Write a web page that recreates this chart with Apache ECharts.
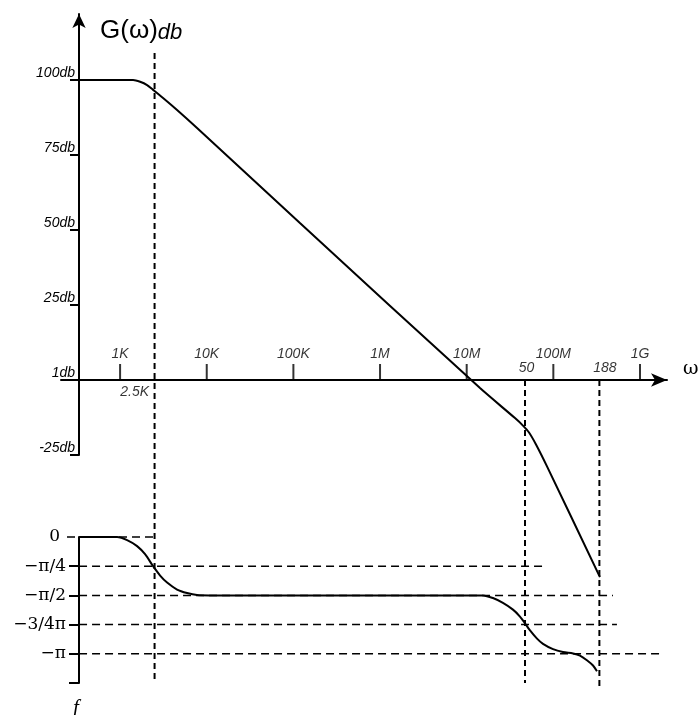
<!DOCTYPE html>
<html>
<head>
<meta charset="utf-8">
<script src="https://cdn.jsdelivr.net/npm/echarts@6/dist/echarts.min.js"></script>
<style>
html, body { margin: 0; padding: 0; background: #fff; }
#chart { width: 700px; height: 715px; }
</style>
</head>
<body>
<div id="chart"></div>
<script>
// omega axis ticks
var tickFreqs = [1e3, 1e4, 1e5, 1e6, 1e7, 1e8, 1e9];
var tickLabels = ['1K', '10K', '100K', '1M', '10M', '100M', '1G'];

// magnitude curve (Hz, dB)
var magFreqs = [336, 1413, 1702, 2050, 2404, 3133, 4546, 7730, 1.19e5, 1.425e7, 3.61e7, 4.46e7, 5.24e7, 6.31e7, 8.45e7, 3.45e8];
var magDb = [100, 100, 99.4, 98.3, 96.7, 94, 90, 84, 52.3, -2.7, -12.7, -15.2, -17.5, -21.5, -28.8, -65.7];

// phase curve (Hz, multiples of pi)
var phaseFreqs = [336, 923, 1205, 1571, 1942, 2404, 2897, 3487, 4546, 5929, 7730, 10900,
  1.18e7, 1.54e7, 2.01e7, 2.62e7, 3.42e7, 4.12e7, 4.71e7, 5.38e7, 6.48e7, 7.60e7, 9.91e7,
  1.29e8, 1.69e8, 2.03e8, 2.44e8, 2.87e8, 3.19e8];
var phasePi = [0, 0, -0.026, -0.078, -0.147, -0.25, -0.33, -0.39, -0.45, -0.48, -0.497, -0.5,
  -0.5, -0.5, -0.5225, -0.564, -0.622, -0.681, -0.739, -0.80, -0.87, -0.915, -0.96,
  -0.985, -0.997, -1.015, -1.055, -1.10, -1.15];

// vertical guides
var guideFreqs = [2500, 4.71e7, 3.4e8];
var guideLabels = ['2.5K', '50', '188'];
var guideTopDb = [109, 0, 0];
var guideBottomDb = [-101, -101, -103];

// phase reference lines
var phaseLevels = [0, -0.25, -0.5, -0.75, -1];
var phaseLevelLabels = ['0', '\u2212\u03c0/4', '\u2212\u03c0/2', '\u22123/4\u03c0', '\u2212\u03c0'];
var phaseLineStart = [244, 336, 336, 336, 336];
var phaseLineEnd = [2500, 8.0e7, 4.88e8, 5.42e8, 1.79e9];

var xMin = 208, xMax = 2.05e9;

function zip(a, b) {
  return a.map(function (v, i) { return [v, b[i]]; });
}

var series = [];

guideFreqs.forEach(function (f, i) {
  series.push({
    type: 'line', xAxisIndex: 0, yAxisIndex: 0,
    data: [[f, guideTopDb[i]], [f, guideBottomDb[i]]],
    symbol: 'none', clip: false, silent: true, z: 1,
    lineStyle: { color: '#000', width: 2, type: [6, 4] }
  });
});

phaseLevels.forEach(function (p, i) {
  series.push({
    type: 'line', xAxisIndex: 1, yAxisIndex: 1,
    data: [[phaseLineStart[i], p], [phaseLineEnd[i], p]],
    symbol: 'none', clip: false, silent: true, z: 1,
    lineStyle: { color: '#000', width: 1.5, type: [8, 5] }
  });
});

series.push({
  type: 'line', xAxisIndex: 0, yAxisIndex: 0,
  data: zip(magFreqs, magDb),
  smooth: 0.25, symbol: 'none', clip: false, z: 3,
  lineStyle: { color: '#000', width: 2 }
});

series.push({
  type: 'line', xAxisIndex: 1, yAxisIndex: 1,
  data: zip(phaseFreqs, phasePi),
  smooth: 0.3, symbol: 'none', clip: false, z: 3,
  lineStyle: { color: '#000', width: 2 }
});

// tick marks on the omega axis
series.push({
  type: 'scatter', xAxisIndex: 0, yAxisIndex: 0,
  data: tickFreqs.map(function (f, i) { return { value: [f, 0], name: tickLabels[i] }; }),
  symbol: 'rect', symbolSize: [2, 16], symbolOffset: [0, -8],
  itemStyle: { color: '#000' }, silent: true, z: 4,
  label: {
    show: true, position: 'top', distance: 3, formatter: '{b}',
    fontStyle: 'italic', fontSize: 14, color: '#000', fontFamily: 'Liberation Sans'
  }
});

// guide labels
var guideLabelPos = [
  { position: [-5, 6], align: 'right', verticalAlign: 'top' },
  { position: [2, -4], align: 'center', verticalAlign: 'bottom' },
  { position: [6, -4], align: 'center', verticalAlign: 'bottom' }
];
series.push({
  type: 'scatter', xAxisIndex: 0, yAxisIndex: 0,
  data: guideFreqs.map(function (f, i) {
    return { value: [f, 0], name: guideLabels[i], label: guideLabelPos[i] };
  }),
  symbolSize: 1, itemStyle: { color: 'rgba(0,0,0,0)' }, silent: true, z: 4,
  label: {
    show: true, formatter: '{b}',
    fontStyle: 'italic', fontSize: 14, color: '#000', fontFamily: 'Liberation Sans'
  }
});

var chart = echarts.init(document.getElementById('chart'));
chart.setOption({
  animation: false,
  backgroundColor: '#fff',
  title: {
    text: '{g|G(\u03c9)}{d|db}',
    left: 95, top: 9,
    textStyle: {
      fontWeight: 'normal',
      rich: {
        g: { fontSize: 26, fontFamily: 'Liberation Sans', fontWeight: 'normal', color: '#000', verticalAlign: 'bottom', lineHeight: 30 },
        d: { fontSize: 22, fontFamily: 'Liberation Sans', fontWeight: 'normal', fontStyle: 'italic', color: '#000', verticalAlign: 'bottom', lineHeight: 28 }
      }
    }
  },
  grid: [
    { left: 61, right: 33, top: 14, height: 441, outerBoundsMode: 'none' },
    { left: 61, right: 33, top: 537, height: 146, outerBoundsMode: 'none' }
  ],
  xAxis: [
    {
      type: 'log', logBase: 10, gridIndex: 0, min: xMin, max: xMax,
      axisLine: { onZero: true, symbol: ['none', 'arrow'], symbolSize: [10, 16], lineStyle: { color: '#000', width: 2 } },
      axisTick: { show: false }, axisLabel: { show: false }, splitLine: { show: false },
      name: '\u03c9', nameLocation: 'end', nameGap: 16,
      nameTextStyle: { fontSize: 19, fontFamily: 'DejaVu Serif', color: '#000', verticalAlign: 'bottom', lineHeight: 22 }
    },
    {
      type: 'log', logBase: 10, gridIndex: 1, min: xMin, max: xMax, show: false
    }
  ],
  yAxis: [
    {
      type: 'value', gridIndex: 0, min: -25, max: 122, offset: -18,
      axisLine: { onZero: false, symbol: ['none', 'arrow'], symbolSize: [10, 14], lineStyle: { color: '#000', width: 2 } },
      axisTick: { customValues: [-25, 25, 50, 75, 100], length: 9, lineStyle: { color: '#000', width: 2 } },
      axisLabel: {
        customValues: [-25, 0, 25, 50, 75, 100],
        formatter: function (v) { return v === 0 ? '1db' : v + 'db'; },
        fontStyle: 'italic', fontSize: 14, color: '#000', fontFamily: 'Liberation Sans',
        verticalAlign: 'bottom', margin: 4
      },
      splitLine: { show: false }
    },
    {
      type: 'value', gridIndex: 1, min: -1.25, max: 0, offset: -18,
      axisLine: { onZero: false, lineStyle: { color: '#000', width: 2 } },
      axisTick: { customValues: [-0.25, -0.5, -0.75, -1, -1.25], length: 10, lineStyle: { color: '#000', width: 2 } },
      axisLabel: {
        customValues: phaseLevels,
        formatter: function (v) {
          var i = phaseLevels.indexOf(v);
          if (i < 0) return '';
          return i === 0 ? '{z|0}' : phaseLevelLabels[i];
        },
        fontSize: 17, color: '#000', fontFamily: 'DejaVu Serif', margin: 13,
        rich: { z: { fontSize: 17, fontFamily: 'DejaVu Serif', color: '#000', padding: [0, 6, 0, 0] } }
      },
      splitLine: { show: false },
      name: 'f', nameLocation: 'start', nameGap: 15,
      nameTextStyle: { fontSize: 21, fontStyle: 'italic', fontFamily: 'Liberation Serif', color: '#000', padding: [0, 6, 0, 0] }
    }
  ],
  series: series
});
</script>
</body>
</html>
